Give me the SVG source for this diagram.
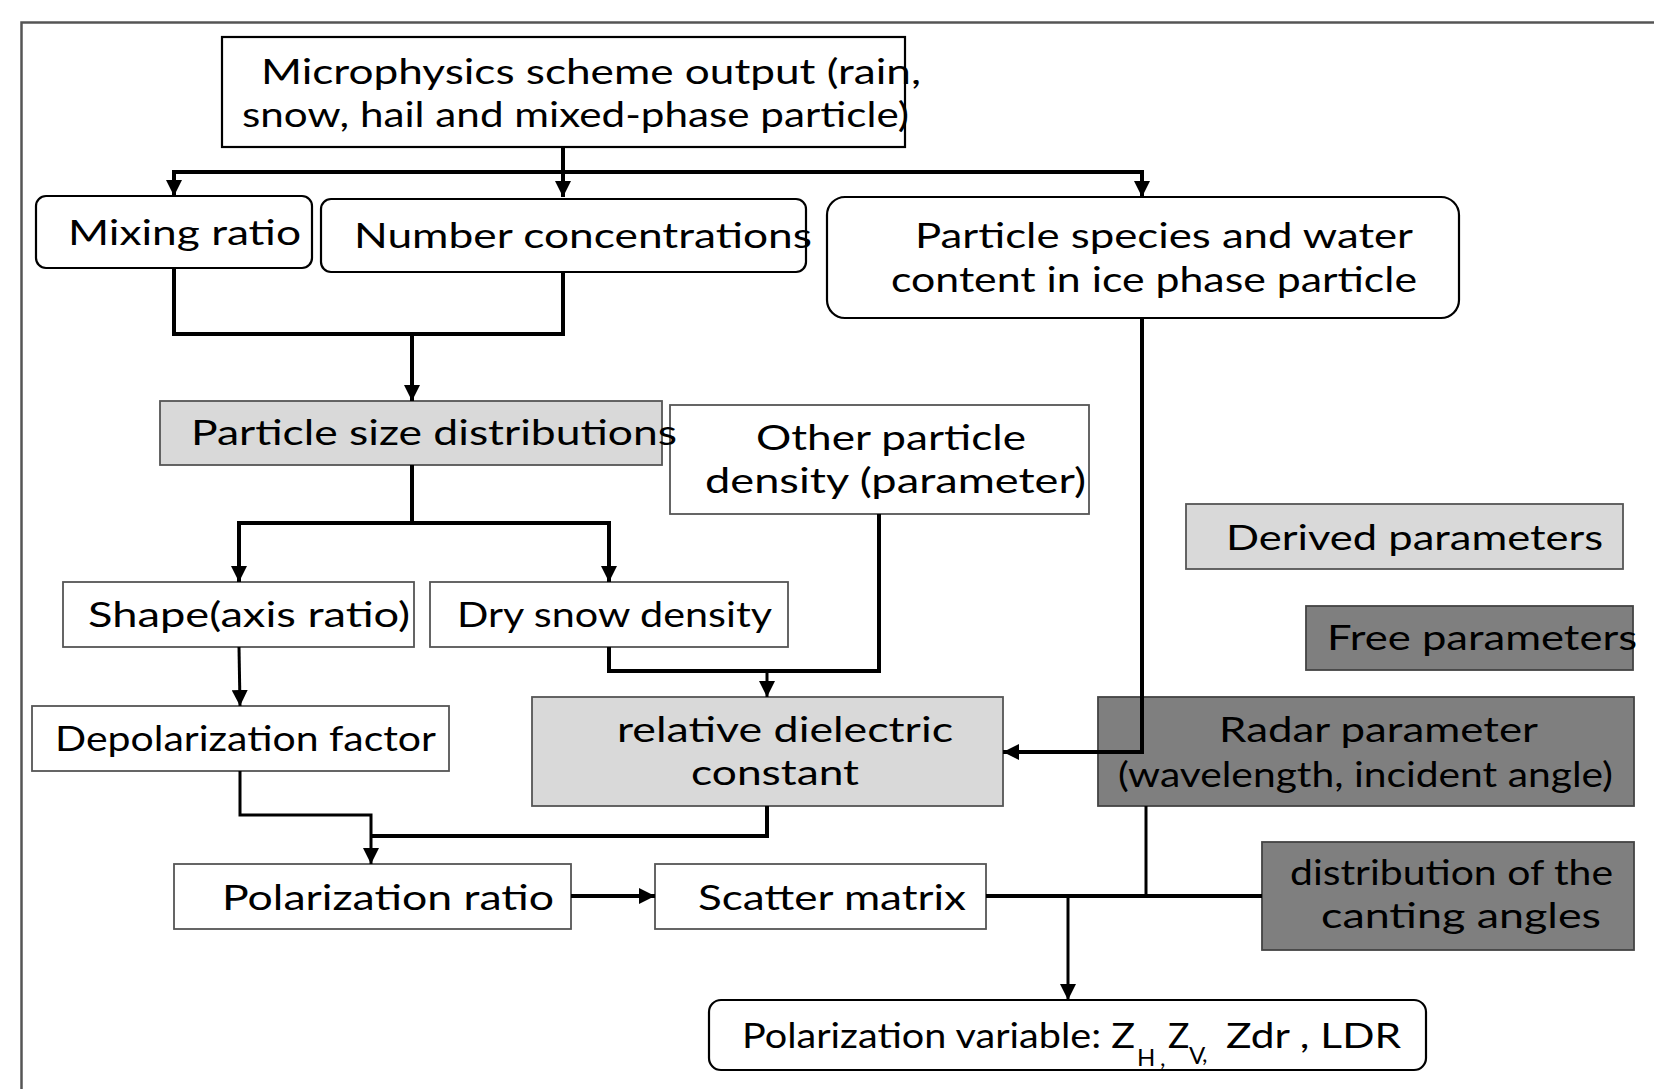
<svg xmlns="http://www.w3.org/2000/svg" width="1654" height="1089" viewBox="0 0 1654 1089">
<style>
.t{font-family:Lato,"Noto Sans","Liberation Sans",sans-serif;font-size:35.5px;fill:#000}
.sub{font-family:Lato,"Noto Sans","Liberation Sans",sans-serif;font-size:24px;fill:#000}
.rb{fill:#fff;stroke:#000;stroke-width:2.2}
.wb{fill:#fff;stroke:#555;stroke-width:1.8}
.lg{fill:#d9d9d9;stroke:#555;stroke-width:1.8}
.dg{fill:#7f7f7f;stroke:#444;stroke-width:1.8}
.c{fill:none;stroke:#000;stroke-width:4}
.c3{fill:none;stroke:#000;stroke-width:3}
</style>
<defs>
<marker id="ah" markerUnits="userSpaceOnUse" markerWidth="18" markerHeight="16" refX="16" refY="8" orient="auto">
<path d="M0,0 L16,8 L0,16 Z" fill="#000"/>
</marker>
</defs>
<rect x="0" y="0" width="1654" height="1089" fill="#fff"/>
<rect x="21.5" y="22.5" width="1700" height="1200" fill="none" stroke="#555" stroke-width="2.5"/>

<g id="n-micro">
<rect class="rb" x="222" y="37" width="683" height="110"/>
<text class="t" x="261" y="84" textLength="660" lengthAdjust="spacingAndGlyphs">Microphysics scheme output (rain,</text>
<text class="t" x="242" y="127" textLength="667" lengthAdjust="spacingAndGlyphs">snow, hail and mixed-phase particle)</text>
</g>
<g id="n-mixing">
<rect class="rb" x="36" y="196" width="276" height="72" rx="10"/>
<text class="t" x="68" y="245" textLength="233" lengthAdjust="spacingAndGlyphs">Mixing ratio</text>
</g>
<g id="n-number">
<rect class="rb" x="321" y="199" width="485" height="73" rx="10"/>
<text class="t" x="354" y="248" textLength="458" lengthAdjust="spacingAndGlyphs">Number concentrations</text>
</g>
<g id="n-species">
<rect class="rb" x="827" y="197" width="632" height="121" rx="18"/>
<text class="t" x="915" y="248" textLength="498" lengthAdjust="spacingAndGlyphs">Particle species and water</text>
<text class="t" x="891" y="292" textLength="526" lengthAdjust="spacingAndGlyphs">content in ice phase particle</text>
</g>
<g id="n-other">
<rect class="wb" x="670" y="405" width="419" height="109"/>
<text class="t" x="756" y="450" textLength="270" lengthAdjust="spacingAndGlyphs">Other particle</text>
<text class="t" x="705" y="493" textLength="381" lengthAdjust="spacingAndGlyphs">density (parameter)</text>
</g>
<g id="n-psd">
<rect class="lg" x="160" y="401" width="502" height="64"/>
<text class="t" x="191" y="445" textLength="486" lengthAdjust="spacingAndGlyphs">Particle size distributions</text>
</g>
<g id="n-shape">
<rect class="wb" x="63" y="582" width="351" height="65"/>
<text class="t" x="88" y="627" textLength="322" lengthAdjust="spacingAndGlyphs">Shape(axis ratio)</text>
</g>
<g id="n-drysnow">
<rect class="wb" x="430" y="582" width="358" height="65"/>
<text class="t" x="457" y="627" textLength="315" lengthAdjust="spacingAndGlyphs">Dry snow density</text>
</g>
<g id="n-depol">
<rect class="wb" x="32" y="706" width="417" height="65"/>
<text class="t" x="55" y="751" textLength="381" lengthAdjust="spacingAndGlyphs">Depolarization factor</text>
</g>
<g id="n-dielectric">
<rect class="lg" x="532" y="697" width="471" height="109"/>
<text class="t" x="617" y="742" textLength="336" lengthAdjust="spacingAndGlyphs">relative dielectric</text>
<text class="t" x="691" y="785" textLength="168" lengthAdjust="spacingAndGlyphs">constant</text>
</g>
<g id="n-derived">
<rect class="lg" x="1186" y="504" width="437" height="65"/>
<text class="t" x="1226" y="550" textLength="377" lengthAdjust="spacingAndGlyphs">Derived parameters</text>
</g>
<g id="n-free">
<rect class="dg" x="1306" y="606" width="327" height="64"/>
<text class="t" x="1327" y="650" textLength="310" lengthAdjust="spacingAndGlyphs">Free parameters</text>
</g>
<g id="n-radar">
<rect class="dg" x="1098" y="697" width="536" height="109"/>
<text class="t" x="1219" y="742" textLength="319" lengthAdjust="spacingAndGlyphs">Radar parameter</text>
<text class="t" x="1118" y="787" textLength="495" lengthAdjust="spacingAndGlyphs">(wavelength, incident angle)</text>
</g>
<g id="n-canting">
<rect class="dg" x="1262" y="842" width="372" height="108"/>
<text class="t" x="1290" y="885" textLength="323" lengthAdjust="spacingAndGlyphs">distribution of the</text>
<text class="t" x="1321" y="928" textLength="280" lengthAdjust="spacingAndGlyphs">canting angles</text>
</g>
<g id="n-polratio">
<rect class="wb" x="174" y="864" width="397" height="65"/>
<text class="t" x="222" y="910" textLength="332" lengthAdjust="spacingAndGlyphs">Polarization ratio</text>
</g>
<g id="n-scatter">
<rect class="wb" x="655" y="864" width="331" height="65"/>
<text class="t" x="698" y="910" textLength="268" lengthAdjust="spacingAndGlyphs">Scatter matrix</text>
</g>
<g id="n-polvar">
<rect class="rb" x="709" y="1000" width="717" height="70" rx="12"/>
<text class="t" x="742" y="1048" textLength="393" lengthAdjust="spacingAndGlyphs">Polarization variable: Z</text>
<text class="sub" x="1137" y="1066">H</text>
<text class="sub" x="1160" y="1066">,</text>
<text class="t" x="1168" y="1048">Z</text>
<text class="sub" x="1189" y="1064">V</text>
<text class="sub" x="1202" y="1062">,</text>
<text class="t" x="1226" y="1048" textLength="175" lengthAdjust="spacingAndGlyphs">Zdr , LDR</text>
</g>

<g id="connectors">
<path class="c" d="M563,147 V197" marker-end="url(#ah)"/>
<path class="c" d="M174,172 H1142"/>
<path class="c" d="M174,170 V196" marker-end="url(#ah)"/>
<path class="c" d="M1142,170 V197" marker-end="url(#ah)"/>
<path class="c" d="M174,268 V334 H563 V272"/>
<path class="c" d="M412,334 V401" marker-end="url(#ah)"/>
<path class="c" d="M412,465 V523"/>
<path class="c" d="M239,523 H609"/>
<path class="c" d="M239,521 V582" marker-end="url(#ah)"/>
<path class="c" d="M609,521 V582" marker-end="url(#ah)"/>
<path class="c3" d="M239,647 L240,706" marker-end="url(#ah)"/>
<path class="c" d="M609,647 V671 H879 V514"/>
<path class="c3" d="M767,671 V697" marker-end="url(#ah)"/>
<path class="c" d="M1142,318 V752 H1003" marker-end="url(#ah)"/>
<path class="c3" d="M240,771 V815 H371 V864" marker-end="url(#ah)"/>
<path class="c" d="M767,806 V836 H372"/>
<path class="c" d="M571,896 H655" marker-end="url(#ah)"/>
<path class="c" d="M986,896 H1262"/>
<path class="c3" d="M1146,806 V896"/>
<path class="c3" d="M1068,895 V1000" marker-end="url(#ah)"/>
</g>
</svg>
